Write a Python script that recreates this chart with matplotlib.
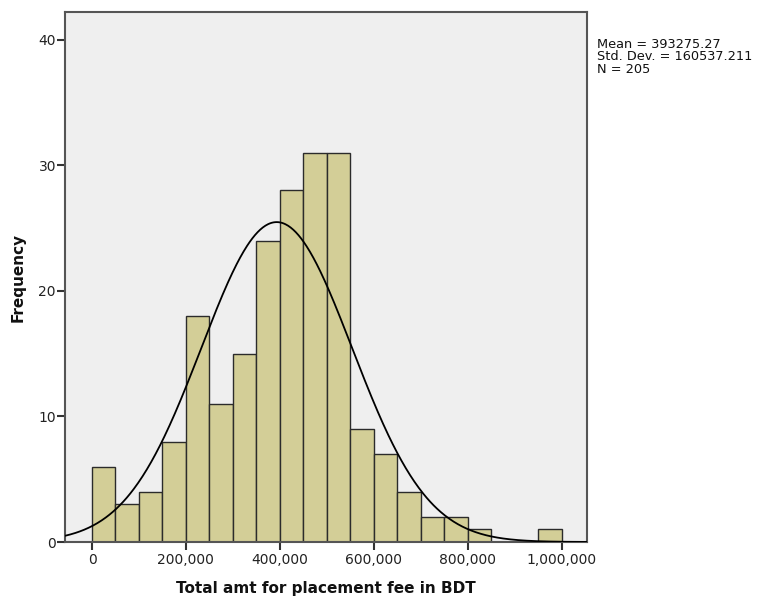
import numpy as np
import matplotlib
matplotlib.use("Agg")
import matplotlib.pyplot as plt

# Histogram of placement fees (bin width 50,000 BDT)
bin_edges = np.arange(0, 1_000_001, 50_000)
counts = [6, 3, 4, 8, 18, 11, 15, 24, 28, 31, 31, 9, 7, 4, 2, 2, 1, 0, 0, 1]
mean_val = 393275.27
std_val = 160537.211
n_obs = 205
x_ticks = [0, 200_000, 400_000, 600_000, 800_000, 1_000_000]
y_ticks = [0, 10, 20, 30, 40]

plt.rcParams['font.family'] = ['DejaVu Sans']

fig = plt.figure(figsize=(7.58, 5.97), dpi=100)
ax = fig.add_axes([65 / 758, 55 / 597, 522 / 758, 530 / 597])
ax.set_facecolor('#EFEFEF')

widths = np.diff(bin_edges)
ax.bar(bin_edges[:-1], counts, width=widths, align='edge',
       color='#D3CE97', edgecolor='#2b2b2b', linewidth=1.0, zorder=2)

xlim = (-57_500, 1_054_000)
xs = np.linspace(xlim[0], xlim[1], 600)
scale = n_obs * 50_000
ys = scale * np.exp(-0.5 * ((xs - mean_val) / std_val) ** 2) / (std_val * np.sqrt(2 * np.pi))
ax.plot(xs, ys, color='black', linewidth=1.3, zorder=3)

ax.set_xlim(*xlim)
ax.set_ylim(0, 42.2)
ax.set_xticks(x_ticks)
ax.set_xticklabels([f"{v:,}" for v in x_ticks])
ax.set_yticks(y_ticks)

for s in ax.spines.values():
    s.set_color('#555555')
    s.set_linewidth(1.5)

ax.tick_params(axis='both', direction='out', length=6, width=1.5,
               color='#333333', labelsize=10, labelcolor='#222222')
ax.tick_params(axis='y', pad=0.5)
ax.tick_params(axis='x', pad=2)

ax.set_xlabel('Total amt for placement fee in BDT', fontsize=11,
              fontweight='bold', color='#111111', labelpad=10)
ax.set_ylabel('Frequency', fontsize=11, fontweight='bold', color='#111111', labelpad=9)

fig.text(597 / 758, 1 - 38 / 597,
         f"Mean = {mean_val:.2f}\nStd. Dev. = {std_val:.3f}\nN = {n_obs}",
         fontsize=9.3, va='top', ha='left', color='#111111', linespacing=0.95)

fig.savefig('out.png', dpi=100, facecolor='white')
